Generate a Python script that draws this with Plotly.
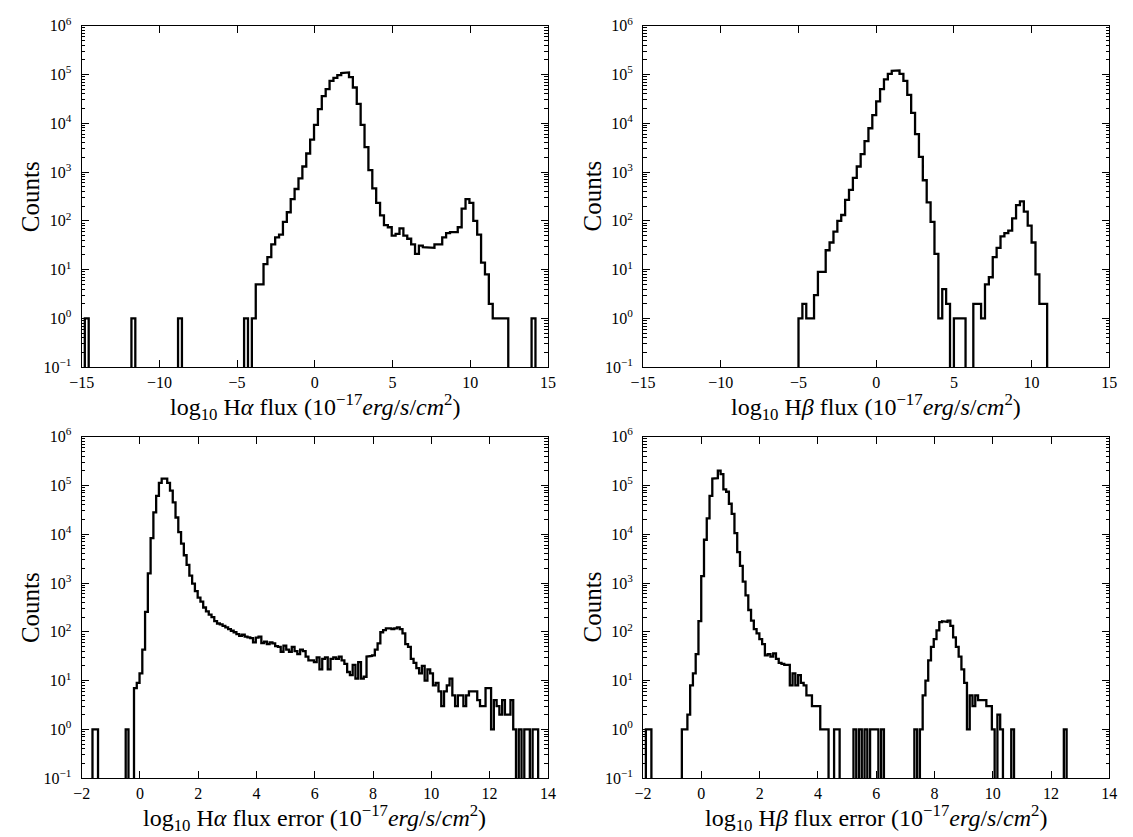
import plotly.graph_objects as go

# ---------------------------------------------------------------------------
# Histogram data: each panel is described by its first bin edge, a constant
# bin width and the list of counts per bin.
# ---------------------------------------------------------------------------

# log10 H-alpha flux
ha_flux_start = -14.8
ha_flux_width = 0.25
ha_flux_counts = [
    1, 0, 0, 0, 0, 0, 0, 0, 0, 0, 0, 0, 1, 0, 0, 0, 0, 0, 0, 0,
    0, 0, 0, 0, 1, 0, 0, 0, 0, 0, 0, 0, 0, 0, 0, 0, 0, 0, 0, 0,
    0, 1, 0, 1, 5, 5, 13, 18, 33, 46, 52, 95, 150, 280, 450, 740, 1300, 2400, 4600, 9300,
    19500, 36000, 50000, 74000, 85000, 97000, 107000, 110000, 88000, 54000,
    25000, 9300, 3250, 1100, 465, 233, 130, 82, 74, 50,
    54, 70, 50, 43, 33, 21, 31, 29, 29, 28,
    33, 33, 46, 56, 59, 59, 74, 178, 280, 233,
    100, 52, 14, 8, 2, 1, 1, 1, 1, 0, 0, 0, 0, 0, 0, 1,
]

# log10 H-beta flux
hb_flux_start = -5.0
hb_flux_width = 0.25
hb_flux_counts = [
    1, 2, 1, 1, 3, 9, 9, 25, 36, 60,
    100, 132, 270, 430, 760, 1300, 2330, 4300, 7900, 14700,
    28000, 50000, 79000, 103000, 118000, 121000, 103000, 74000, 38000, 16300,
    6000, 2050, 680, 240, 95, 21, 1, 4, 2, 0,
    1, 1, 1, 0, 0, 2, 2, 1, 5, 7,
    18, 28, 48, 56, 63, 112, 210, 250, 155, 80,
    36, 8, 2, 2,
]

# log10 H-alpha flux error
ha_err_start = -1.63
ha_err_width = 0.095
ha_err_counts = [
    1, 1, 0, 0, 0, 0, 0, 0, 0, 0, 0, 0, 1, 0, 0, 7, 9, 14, 43, 257,
    1580, 8300, 28000, 61000, 113000, 138000, 138000, 113000, 78000, 45000,
    22000, 11000, 6400, 3700, 2350, 1420, 970, 680, 500, 415,
    315, 263, 224, 200, 166, 148, 142, 132, 123, 113,
    105, 98, 90, 83, 87, 80, 77, 74, 61, 76,
    80, 59, 63, 56, 61, 58, 51, 49, 39, 52,
    43, 39, 49, 40, 35, 43, 40, 31, 26, 26,
    24, 30, 17, 28, 30, 17, 28, 30, 28, 31,
    26, 22, 15, 13, 21, 11, 24, 11, 12, 31,
    32, 33, 43, 58, 98, 108, 118, 118, 113, 118,
    123, 113, 93, 56, 49, 28, 23, 18, 14, 20,
    10, 17, 14, 8, 9, 6, 3, 6, 8, 11,
    5, 3, 5, 5, 3, 5, 6, 6, 6, 4,
    3, 3, 7, 7, 1, 4, 3, 2, 4, 2,
    2, 4, 1, 0, 1, 0, 1, 1, 0, 1, 1,
]

# log10 H-beta flux error
hb_err_start = -1.905
hb_err_width = 0.095
hb_err_counts = [
    1, 1, 0, 0, 0, 0, 0, 0, 0, 0, 0, 0, 0, 1, 1, 2, 8, 14, 35, 166,
    1380, 7700, 21000, 61000, 138000, 140000, 200000, 170000, 83000, 74000,
    42000, 26000, 10500, 4300, 2250, 1070, 560, 280, 170, 113,
    93, 71, 56, 33, 35, 31, 36, 28, 23, 22,
    21, 21, 8, 14, 8, 13, 9, 8, 5, 5,
    3, 3, 3, 1, 1, 1, 0, 0, 1, 1,
    0, 0, 0, 0, 0, 1, 0, 1, 0, 1,
    0, 1, 1, 1, 0, 1, 0, 0, 0, 0,
    0, 0, 0, 0, 0, 0, 0, 1, 0, 1,
    5, 10, 26, 49, 71, 107, 158, 165, 160, 170,
    132, 77, 49, 31, 17, 9, 1, 5, 3, 5,
    4, 4, 4, 3, 3, 1, 0, 2, 1, 0,
    0, 0, 1, 0, 0, 0, 0, 0, 0, 0,
    0, 0, 0, 0, 0, 0, 0, 0, 0, 0,
    0, 1,
]

# Axis ticks
flux_ticks = [-15, -10, -5, 0, 5, 10, 15]
flux_tick_text = ["\u221215", "\u221210", "\u22125", "0", "5", "10", "15"]
err_ticks = [-2, 0, 2, 4, 6, 8, 10, 12, 14]
err_tick_text = ["\u22122", "0", "2", "4", "6", "8", "10", "12", "14"]
count_ticks = [0.1, 1, 10, 100, 1e3, 1e4, 1e5, 1e6]
count_tick_text = ["10<sup>\u22121</sup>", "10<sup>0</sup>", "10<sup>1</sup>",
                   "10<sup>2</sup>", "10<sup>3</sup>", "10<sup>4</sup>",
                   "10<sup>5</sup>", "10<sup>6</sup>"]

unit = "(10<sup>\u221217</sup><i>erg</i>/<i>s</i>/<i>cm</i><sup>2</sup>)"
x_titles = [
    "log<sub>10</sub> H<i>\u03b1</i> flux " + unit,
    "log<sub>10</sub> H<i>\u03b2</i> flux " + unit,
    "log<sub>10</sub> H<i>\u03b1</i> flux error " + unit,
    "log<sub>10</sub> H<i>\u03b2</i> flux error " + unit,
]

# ---------------------------------------------------------------------------
# Layout geometry (pixels in a 1133 x 837 page)
# ---------------------------------------------------------------------------
W, H = 1133, 837
col_px = [(70, 545), (642, 1117)]
row_px = [(15, 365), (436, 786)]
FLOOR = 1e-3   # empty bins are drawn below the visible range
SERIF = "Liberation Serif, Times New Roman, serif"


def step_outline(start, width, counts):
    """Outline of a step histogram: up from the baseline, across every bin,
    back down to the baseline after the last edge."""
    xs = [start]
    ys = [FLOOR]
    for i, c in enumerate(counts):
        v = c if c > 0 else FLOOR
        xs += [start + i * width, start + (i + 1) * width]
        ys += [v, v]
    xs.append(start + len(counts) * width)
    ys.append(FLOOR)
    return xs, ys


panels = [
    (ha_flux_start, ha_flux_width, ha_flux_counts, [-15, 15], flux_ticks, flux_tick_text),
    (hb_flux_start, hb_flux_width, hb_flux_counts, [-15, 15], flux_ticks, flux_tick_text),
    (ha_err_start, ha_err_width, ha_err_counts, [-2, 14], err_ticks, err_tick_text),
    (hb_err_start, hb_err_width, hb_err_counts, [-2, 14], err_ticks, err_tick_text),
]

fig = go.Figure()
layout = dict(
    width=W, height=H,
    margin=dict(l=0, r=0, t=0, b=0),
    paper_bgcolor="white", plot_bgcolor="white",
    showlegend=False,
    font=dict(family=SERIF, color="black"),
)
annotations = []

for n, (start, width, counts, xr, xt, xtt) in enumerate(panels):
    row, col = divmod(n, 2)
    ax = "" if n == 0 else str(n + 1)
    x0, x1 = col_px[col]
    y0, y1 = row_px[row]
    xdom = [x0 / W, x1 / W]
    ydom = [1 - y1 / H, 1 - y0 / H]

    xs, ys = step_outline(start, width, counts)
    fig.add_trace(go.Scatter(
        x=xs, y=ys, mode="lines",
        line=dict(color="black", width=2.3),
        xaxis="x" + ax, yaxis="y" + ax,
        hoverinfo="skip",
    ))

    layout["xaxis" + ax] = dict(
        domain=xdom, anchor="y" + ax, range=xr,
        tickmode="array", tickvals=xt, ticktext=xtt,
        ticks="inside", ticklen=7, tickwidth=1, tickcolor="black",
        showline=True, linecolor="black", linewidth=1.2, mirror="allticks",
        showgrid=False, zeroline=False,
        tickfont=dict(family=SERIF, size=16, color="black"),
        ticklabelstandoff=0,
    )
    layout["yaxis" + ax] = dict(
        domain=ydom, anchor="x" + ax, type="log", range=[-1, 6],
        tickmode="array", tickvals=count_ticks, ticktext=count_tick_text,
        ticks="inside", ticklen=7, tickwidth=1, tickcolor="black",
        minor=dict(ticks="inside", ticklen=3.5, tickwidth=1,
                   tickcolor="black", dtick="D1", showgrid=False),
        showline=True, linecolor="black", linewidth=1.2, mirror="allticks",
        showgrid=False, zeroline=False,
        tickfont=dict(family=SERIF, size=16, color="black"),
        ticklabelstandoff=6,
    )

    # axis titles
    annotations.append(dict(
        text=x_titles[n], xref="paper", yref="paper",
        x=(x0 + x1) / 2 / W, y=1 - (y1 + 41) / H,
        xanchor="center", yanchor="middle", showarrow=False,
        font=dict(family=SERIF, size=24, color="black"),
    ))
    annotations.append(dict(
        text="Counts", xref="paper", yref="paper",
        x=(x0 - 52) / W, y=1 - (y0 + y1) / 2 / H,
        xanchor="center", yanchor="middle", textangle=-90, showarrow=False,
        font=dict(family=SERIF, size=25, color="black"),
    ))

layout["annotations"] = annotations
fig.update_layout(**layout)

fig.write_html("out.html")
